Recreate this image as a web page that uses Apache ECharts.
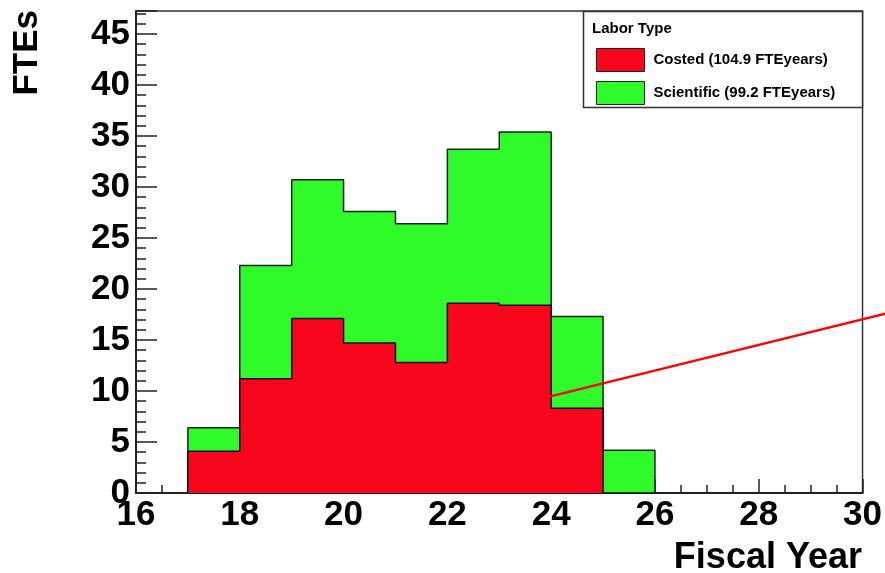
<!DOCTYPE html>
<html>
<head>
<meta charset="utf-8">
<script src="https://cdn.jsdelivr.net/npm/echarts@6/dist/echarts.min.js"></script>
<style>
html, body { margin: 0; padding: 0; background: #fff; }
#main { width: 885px; height: 573px; }
</style>
</head>
<body>
<div id="main"></div>
<script>
// bins are one fiscal year wide
var binStart = [17, 18, 19, 20, 21, 22, 23, 24, 25];
var costed = [4.1, 11.2, 17.1, 14.7, 12.8, 18.6, 18.4, 8.3, 0];
var scientific = [2.3, 11.1, 13.6, 12.9, 13.6, 15.1, 17.0, 9.0, 4.2];
var legendNames = ['Costed (104.9 FTEyears)', 'Scientific (99.2 FTEyears)'];
var pointerLine = [[23.85, 9.3], [30.45, 17.6]];

var red = '#f7061c';
var green = '#2ffb2b';
var font = "'Liberation Sans', Arial, Helvetica, sans-serif";

// step outline for a histogram: start at 0, one point per bin, close at 0
function histPoints(vals) {
    var pts = [[binStart[0], 0]];
    for (var i = 0; i < vals.length; i++) {
        pts.push([binStart[i], vals[i]]);
    }
    var last = binStart[binStart.length - 1] + 1;
    pts.push([last, vals[vals.length - 1]]);
    pts.push([last, 0]);
    return pts;
}

var totals = [];
for (var i = 0; i < costed.length; i++) {
    totals.push(+(costed[i] + scientific[i]).toFixed(2));
}

var chart = echarts.init(document.getElementById('main'));

var option = {
    animation: false,
    backgroundColor: '#fff',
    grid: {
        left: 136, right: 22, top: 11, bottom: 80,
        show: true, borderColor: '#333', borderWidth: 1.5
    },
    xAxis: {
        type: 'value',
        min: 16, max: 30, interval: 2,
        axisLine: { onZero: false, lineStyle: { color: '#222', width: 2 } },
        axisTick: { inside: true, length: 14, lineStyle: { color: '#222', width: 1.5 } },
        minorTick: { show: true, splitNumber: 4, length: 8, lineStyle: { color: '#222', width: 1.5 } },
        splitLine: { show: false },
        axisLabel: { color: '#000', fontFamily: font, fontWeight: 'bold', fontSize: 35, margin: 5 }
    },
    yAxis: {
        type: 'value',
        min: 0, max: 47.25, interval: 5,
        axisLine: { show: true, lineStyle: { color: '#222', width: 2 } },
        axisTick: { show: true, inside: true, length: 21, lineStyle: { color: '#222', width: 1.5 } },
        minorTick: { show: true, splitNumber: 5, length: 10, lineStyle: { color: '#222', width: 1.5 } },
        splitLine: { show: false },
        axisLabel: { color: '#000', fontFamily: font, fontWeight: 'bold', fontSize: 35, margin: 6, showMaxLabel: false }
    },
    legend: {
        z: 20,
        orient: 'vertical',
        left: 596, top: 48,
        padding: 0,
        itemWidth: 48, itemHeight: 23, itemGap: 9,
        icon: 'rect',
        selectedMode: false,
        textStyle: { color: '#000', fontFamily: font, fontWeight: 'bold', fontSize: 15, padding: [0, 0, 0, 4] },
        data: [
            { name: legendNames[0], itemStyle: { color: red, borderColor: '#222', borderWidth: 1 } },
            { name: legendNames[1], itemStyle: { color: green, borderColor: '#222', borderWidth: 1 } }
        ]
    },
    graphic: [
        {
            type: 'rect', z: 6,
            shape: { x: 583.5, y: 11.5, width: 279, height: 96 },
            style: { fill: '#fff', stroke: '#333', lineWidth: 1.5 }
        },
        {
            type: 'text', z: 21, left: 592, top: 21,
            style: { text: 'Labor Type', fill: '#000', font: 'bold 15px ' + font }
        },
        {
            type: 'text', z: 21, left: 10, top: 10, rotation: Math.PI / 2,
            style: { text: 'FTEs', fill: '#000', font: 'bold 35px ' + font }
        },
        {
            type: 'text', z: 21, right: 23, bottom: -3,
            style: { text: 'Fiscal Year', fill: '#000', font: 'bold 36px ' + font }
        }
    ],
    series: [
        {
            name: legendNames[1],
            type: 'line',
            step: 'end',
            symbol: 'none',
            data: histPoints(totals),
            lineStyle: { color: '#222', width: 1.5 },
            itemStyle: { color: green },
            areaStyle: { color: green, opacity: 1 },
            z: 2
        },
        {
            name: legendNames[0],
            type: 'line',
            step: 'end',
            symbol: 'none',
            data: histPoints(costed),
            lineStyle: { color: '#111', width: 1.5 },
            itemStyle: { color: red },
            areaStyle: { color: red, opacity: 1 },
            z: 3
        },
        {
            // the red pointer runs past the frame, so draw it unclipped
            name: 'pointer',
            type: 'custom',
            clip: false,
            data: [pointerLine[0].concat(pointerLine[1])],
            renderItem: function (params, api) {
                var p0 = api.coord([api.value(0), api.value(1)]);
                var p1 = api.coord([api.value(2), api.value(3)]);
                return {
                    type: 'line',
                    shape: { x1: p0[0], y1: p0[1], x2: p1[0], y2: p1[1] },
                    style: { stroke: '#ff0000', lineWidth: 2.5 }
                };
            },
            z: 4
        }
    ]
};

chart.setOption(option);
</script>
</body>
</html>
